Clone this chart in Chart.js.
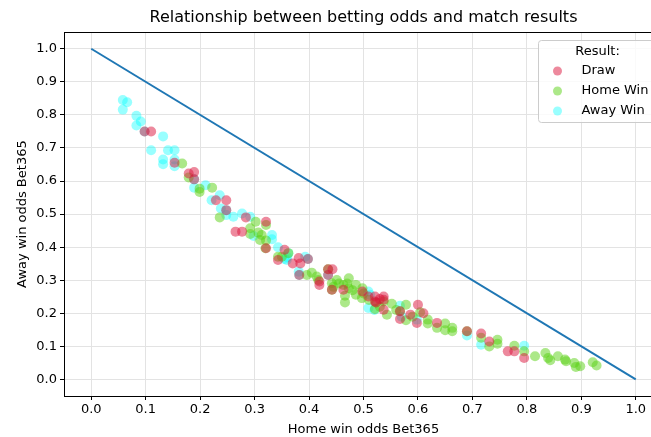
<!DOCTYPE html>
<html>
<head>
<meta charset="utf-8">
<script src="https://cdn.jsdelivr.net/npm/chart.js@4/dist/chart.umd.min.js"></script>
<style>
  html, body { margin: 0; padding: 0; background: #fff; overflow: hidden; }
  #wrap { position: absolute; left: 0; top: 0; width: 680px; height: 437px; }
</style>
</head>
<body>
<div id="wrap"><canvas id="c" width="680" height="437"></canvas></div>
<script>
// Bet365 implied probabilities per match: [home win odds, away win odds]
const drawPoints = [
  [0.098,0.750],[0.110,0.750],[0.153,0.655],[0.179,0.623],[0.189,0.627],[0.189,0.605],
  [0.229,0.542],[0.248,0.542],[0.248,0.512],[0.284,0.490],[0.321,0.477],[0.265,0.447],
  [0.277,0.447],[0.321,0.397],[0.355,0.392],[0.343,0.361],[0.370,0.351],[0.381,0.367],
  [0.384,0.351],[0.398,0.364],[0.382,0.316],[0.419,0.296],[0.419,0.286],[0.435,0.333],
  [0.443,0.333],[0.435,0.316],[0.442,0.271],[0.463,0.271],[0.498,0.266],[0.509,0.251],
  [0.521,0.236],[0.521,0.251],[0.537,0.251],[0.537,0.241],[0.537,0.211],[0.523,0.233],
  [0.530,0.243],[0.567,0.206],[0.567,0.183],[0.586,0.196],[0.600,0.226],[0.610,0.200],
  [0.598,0.171],[0.635,0.171],[0.690,0.146],[0.716,0.139],[0.731,0.115],[0.765,0.085],
  [0.777,0.085],[0.795,0.065]
];
const homeWinPoints = [
  [0.167,0.653],[0.179,0.611],[0.199,0.577],[0.199,0.567],[0.222,0.580],[0.236,0.490],
  [0.302,0.477],[0.321,0.467],[0.292,0.457],[0.292,0.440],[0.307,0.444],[0.310,0.422],
  [0.321,0.420],[0.313,0.437],[0.320,0.397],[0.343,0.371],[0.350,0.371],[0.362,0.382],
  [0.396,0.316],[0.405,0.323],[0.414,0.311],[0.417,0.301],[0.435,0.333],[0.451,0.301],
  [0.442,0.291],[0.442,0.271],[0.445,0.280],[0.455,0.290],[0.463,0.286],[0.470,0.290],
  [0.473,0.306],[0.473,0.276],[0.466,0.253],[0.466,0.233],[0.486,0.286],[0.486,0.256],
  [0.497,0.246],[0.498,0.276],[0.480,0.270],[0.500,0.260],[0.510,0.240],[0.530,0.220],
  [0.521,0.213],[0.523,0.233],[0.537,0.236],[0.543,0.196],[0.552,0.229],[0.560,0.210],
  [0.578,0.226],[0.567,0.206],[0.578,0.179],[0.590,0.190],[0.604,0.203],[0.618,0.181],
  [0.618,0.169],[0.635,0.156],[0.650,0.169],[0.650,0.149],[0.663,0.156],[0.663,0.146],
  [0.690,0.146],[0.716,0.126],[0.731,0.100],[0.746,0.120],[0.746,0.108],[0.777,0.102],
  [0.795,0.085],[0.815,0.070],[0.834,0.080],[0.839,0.065],[0.843,0.058],[0.857,0.070],
  [0.870,0.060],[0.872,0.055],[0.887,0.050],[0.890,0.038],[0.898,0.040],[0.921,0.052],
  [0.928,0.042]
];
const awayWinPoints = [
  [0.058,0.845],[0.066,0.838],[0.058,0.816],[0.083,0.797],[0.091,0.780],[0.083,0.768],
  [0.098,0.750],[0.132,0.735],[0.110,0.693],[0.141,0.693],[0.153,0.693],[0.132,0.665],
  [0.132,0.651],[0.153,0.665],[0.153,0.645],[0.189,0.605],[0.189,0.580],[0.210,0.587],
  [0.221,0.542],[0.236,0.557],[0.238,0.517],[0.248,0.512],[0.248,0.497],[0.261,0.492],
  [0.277,0.502],[0.292,0.492],[0.298,0.434],[0.332,0.437],[0.332,0.424],[0.343,0.400],
  [0.355,0.364],[0.359,0.361],[0.362,0.382],[0.360,0.370],[0.393,0.371],[0.381,0.326],
  [0.398,0.364],[0.382,0.316],[0.435,0.316],[0.509,0.266],[0.509,0.216],[0.512,0.256],
  [0.520,0.210],[0.567,0.223],[0.570,0.190],[0.598,0.181],[0.690,0.133],[0.716,0.105],
  [0.795,0.102]
];
// Reference line where the two probabilities sum to one
const fairLineX = [0, 1];
const fairLineY = [1, 0];

const seriesLabels = ['Draw', 'Home Win', 'Away Win'];
const xTicks = [0.0, 0.1, 0.2, 0.3, 0.4, 0.5, 0.6, 0.7, 0.8, 0.9, 1.0];
const yTicks = [0.0, 0.1, 0.2, 0.3, 0.4, 0.5, 0.6, 0.7, 0.8, 0.9, 1.0];

const FONT = "'DejaVu Sans', 'Liberation Sans', sans-serif";
const toXY = pts => pts.map(p => ({ x: p[0], y: p[1] }));

const colors = {
  'Draw': 'rgba(220,20,60,0.5)',
  'Home Win': 'rgba(90,210,20,0.5)',
  'Away Win': 'rgba(0,255,255,0.4)'
};

function scatterSet(label, pts, order) {
  return {
    type: 'scatter',
    label: label,
    data: toXY(pts),
    backgroundColor: colors[label],
    borderWidth: 0,
    pointRadius: 5,
    pointHoverRadius: 5,
    order: order
  };
}

// Axes frame (all four spines) and the boxed legend in the upper right
const framePlugin = {
  id: 'frame',
  afterDatasetsDraw(chart) {
    const { ctx, chartArea: a } = chart;
    ctx.save();
    ctx.strokeStyle = '#000';
    ctx.lineWidth = 1;
    ctx.strokeRect(Math.round(a.left) + 0.5, Math.round(a.top) + 0.5,
                   Math.round(a.right - a.left), Math.round(a.bottom - a.top));
    ctx.restore();
  },
  afterDraw(chart) {
    const { ctx } = chart;
    const bx = 538.5, by = 40.5, bw = 118, bh = 82, r = 3;
    ctx.save();
    ctx.beginPath();
    ctx.moveTo(bx + r, by);
    ctx.lineTo(bx + bw - r, by);
    ctx.arcTo(bx + bw, by, bx + bw, by + r, r);
    ctx.lineTo(bx + bw, by + bh - r);
    ctx.arcTo(bx + bw, by + bh, bx + bw - r, by + bh, r);
    ctx.lineTo(bx + r, by + bh);
    ctx.arcTo(bx, by + bh, bx, by + bh - r, r);
    ctx.lineTo(bx, by + r);
    ctx.arcTo(bx, by, bx + r, by, r);
    ctx.closePath();
    ctx.fillStyle = 'rgba(255,255,255,0.8)';
    ctx.fill();
    ctx.strokeStyle = '#cccccc';
    ctx.lineWidth = 1;
    ctx.stroke();

    ctx.fillStyle = '#000';
    ctx.font = '13px ' + FONT;
    ctx.textBaseline = 'middle';
    ctx.textAlign = 'center';
    ctx.fillText('Result:', bx + bw / 2, 52);
    ctx.textAlign = 'left';
    const rows = [71, 91, 111];
    chart.data.datasets.filter(d => d.type === 'scatter').forEach((d, i) => {
      ctx.beginPath();
      ctx.arc(557.5, rows[i], 4.5, 0, Math.PI * 2);
      ctx.fillStyle = d.backgroundColor;
      ctx.fill();
      ctx.fillStyle = '#000';
      ctx.fillText(d.label, 581.5, rows[i]);
    });
    ctx.restore();
  }
};

const tickFont = { family: FONT, size: 13 };

new Chart(document.getElementById('c'), {
  data: {
    datasets: [
      scatterSet(seriesLabels[0], drawPoints, 1),
      scatterSet(seriesLabels[1], homeWinPoints, 2),
      scatterSet(seriesLabels[2], awayWinPoints, 3),
      {
        type: 'line',
        label: 'fair',
        data: fairLineX.map((x, i) => ({ x: x, y: fairLineY[i] })),
        borderColor: '#1f77b4',
        borderWidth: 2,
        pointRadius: 0,
        fill: false,
        tension: 0,
        order: 0
      }
    ]
  },
  options: {
    responsive: false,
    animation: false,
    devicePixelRatio: 1,
    layout: { padding: { left: 0, right: 17, top: 0, bottom: 0 } },
    plugins: {
      legend: { display: false },
      tooltip: { enabled: false },
      title: {
        display: true,
        fullSize: false,
        text: 'Relationship between betting odds and match results',
        color: '#000',
        font: { family: FONT, size: 16, weight: 'normal' },
        padding: { top: 8, bottom: 5 }
      }
    },
    scales: {
      x: {
        type: 'linear',
        position: 'bottom',
        min: -0.05,
        max: 1.05,
        afterBuildTicks: s => { s.ticks = xTicks.map(v => ({ value: v })); },
        afterFit: s => { s.height = 41; },
        ticks: {
          color: '#000',
          font: tickFont,
          padding: 2,
          maxRotation: 0,
          autoSkip: false,
          callback: v => Number(v).toFixed(1)
        },
        grid: { color: '#e3e3e3', lineWidth: 1, tickColor: '#000', tickLength: 4 },
        border: { display: false },
        title: {
          display: true,
          text: 'Home win odds Bet365',
          color: '#000',
          font: { family: FONT, size: 13 },
          padding: { top: 0, bottom: 0 }
        }
      },
      y: {
        type: 'linear',
        position: 'left',
        min: -0.05,
        max: 1.05,
        afterBuildTicks: s => { s.ticks = yTicks.map(v => ({ value: v })); },
        afterFit: s => { s.width = 64; },
        ticks: {
          color: '#000',
          font: tickFont,
          padding: 3,
          autoSkip: false,
          callback: v => Number(v).toFixed(1)
        },
        grid: { color: '#e3e3e3', lineWidth: 1, tickColor: '#000', tickLength: 4 },
        border: { display: false },
        title: {
          display: true,
          text: 'Away win odds Bet365',
          color: '#000',
          font: { family: FONT, size: 13 },
          padding: { top: 15, bottom: 0 }
        }
      }
    }
  },
  plugins: [framePlugin]
});
</script>
</body>
</html>
